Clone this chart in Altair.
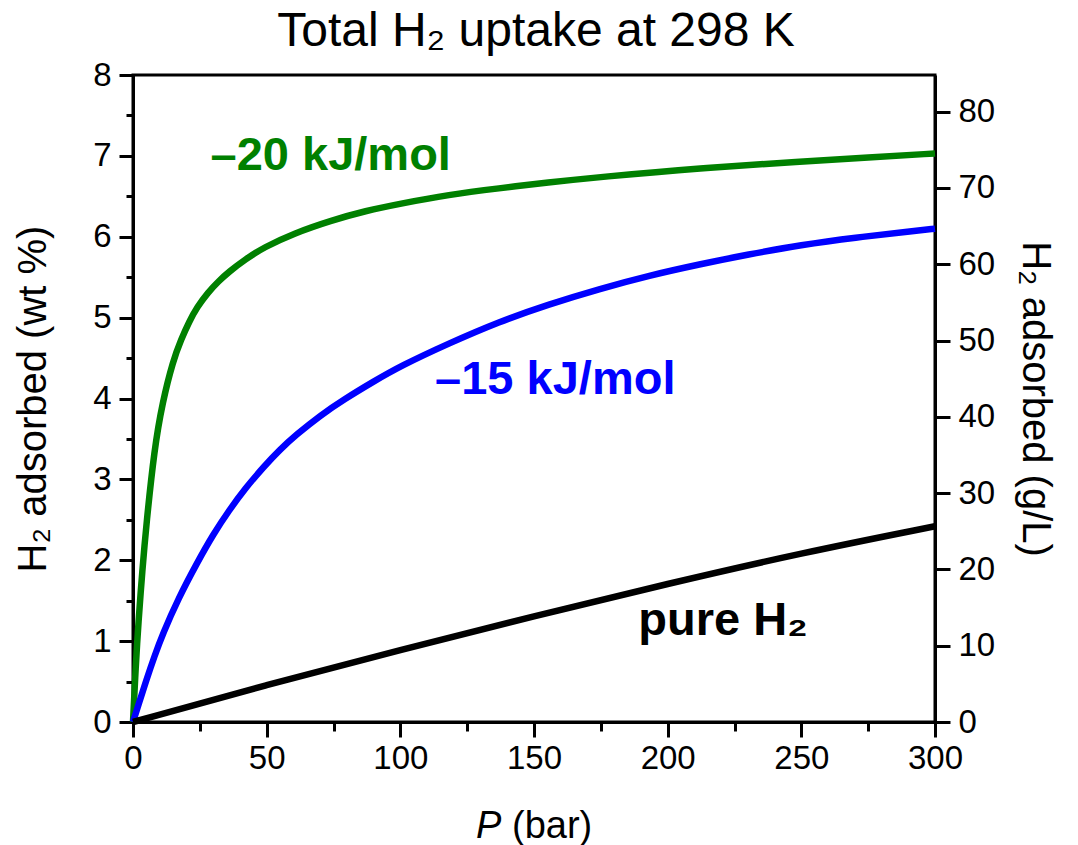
import altair as alt
import pandas as pd

FONT = "Liberation Sans"

# ---- data (P in bar, uptake in wt %) ----
p_green = [0, 1, 2, 3.5, 5, 8, 11, 15, 18, 21, 24, 28, 32, 36, 42, 49, 60, 74, 87, 100, 118, 137, 155, 175, 212, 250, 275, 300]
wt_green = [0, 0.68, 1.22, 1.88, 2.45, 3.38, 3.95, 4.47, 4.73, 4.95, 5.13, 5.31, 5.45, 5.57, 5.72, 5.87, 6.04, 6.20, 6.32, 6.41, 6.52, 6.60, 6.67, 6.74, 6.85, 6.93, 6.98, 7.03]

p_blue = [0, 2, 5, 8, 11, 17, 24, 30, 36, 42, 49, 55, 61, 70, 79, 90, 100, 118, 137, 155, 175, 193, 212, 230, 250, 270, 292, 300]
wt_blue = [0, 0.21, 0.52, 0.81, 1.08, 1.53, 1.97, 2.32, 2.62, 2.89, 3.16, 3.37, 3.55, 3.79, 3.99, 4.21, 4.40, 4.68, 4.95, 5.16, 5.36, 5.52, 5.66, 5.78, 5.90, 5.99, 6.07, 6.10]

p_pure = [0, 50, 100, 150, 200, 250, 300]
wt_pure = [0, 0.46, 0.89, 1.31, 1.71, 2.09, 2.42]

series_names = ["-20 kJ/mol", "-15 kJ/mol", "pure H2"]
series_colors = ["#008000", "#0000ff", "#000000"]
series_widths = [6.5, 6.5, 3]

# annotations (left edge P, baseline wt %)
ann_text = ["\u201320 kJ/mol", "\u201315 kJ/mol", "pure H\u2082"]
ann_p = [29, 113, 189]
ann_wt = [6.83, 4.06, 1.076]
ann_color = ["#008000", "#0000ff", "#000000"]

title_text = ["Total H\u2082 uptake at 298 K"]
x_title_parts = ["P", "(bar)"]

x_ticks = list(range(0, 301, 25))
y_ticks = [i * 0.5 for i in range(17)]
gl_ticks = list(range(0, 81, 10))

WT_MAX = 8
GL_PER_WT = 10.6

rows = []
for name, ps, ws in zip(series_names, [p_green, p_blue, p_pure], [wt_green, wt_blue, wt_pure]):
    for p, w in zip(ps, ws):
        rows.append({"series": name, "P": p, "wt": w})
df = pd.DataFrame(rows)

ann_df = pd.DataFrame({"label": ann_text, "P": ann_p, "wt": ann_wt, "col": ann_color})

common = dict(
    domainColor="black", domainWidth=3, tickColor="black", tickWidth=3,
    labelFont=FONT, labelFontSize=33, labelColor="black", grid=False, labelFlush=False,
    titleFont=FONT, titleFontSize=40, titleFontWeight="normal", titleColor="black",
)

x_scale = alt.Scale(domain=[0, 300], nice=False, zero=False)
y_scale = alt.Scale(domain=[0, WT_MAX], nice=False)

x_axis = alt.Axis(
    values=x_ticks, format="d",
    labelExpr="datum.value % 50 ? '' : datum.label",
    tickSize={"condition": {"test": "datum.value % 50 != 0", "value": 9}, "value": 15},
    labelPadding=5, title=None, **common,
)
y_axis = alt.Axis(
    values=y_ticks, format=".0f",
    labelExpr="datum.value % 1 ? '' : datum.label",
    tickSize={"condition": {"test": "datum.value % 1 != 0", "value": 7}, "value": 14},
    labelPadding=8, title="H\u2082 adsorbed (wt %)", titlePadding=39, **common,
)

lines = alt.Chart(df).mark_line(interpolate="basis", strokeCap="butt").encode(
    x=alt.X("P:Q", scale=x_scale, axis=x_axis),
    y=alt.Y("wt:Q", scale=y_scale, axis=y_axis),
    color=alt.Color("series:N", scale=alt.Scale(domain=series_names, range=series_colors), legend=None),
    strokeWidth=alt.StrokeWidth("series:N", scale=alt.Scale(domain=series_names, range=series_widths), legend=None),
)

labels = alt.Chart(ann_df).mark_text(
    align="left", baseline="alphabetic", font=FONT, fontSize=47, fontWeight="bold"
).encode(
    x=alt.X("P:Q", scale=x_scale, axis=x_axis),
    y=alt.Y("wt:Q", scale=y_scale, axis=None),
    text="label:N",
    color=alt.Color("col:N", scale=None),
)

right = alt.Chart(pd.DataFrame({"gL": gl_ticks})).mark_point(opacity=0).encode(
    x=alt.value(0),
    y=alt.Y("gL:Q", scale=alt.Scale(domain=[0, WT_MAX * GL_PER_WT], nice=False),
            axis=alt.Axis(orient="right", values=gl_ticks, tickSize=15, labelPadding=8,
                          title="H\u2082 adsorbed (g/L)", titlePadding=20, **common)),
)

xtitle_p = alt.Chart(pd.DataFrame({"t": [x_title_parts[0]]})).mark_text(
    align="left", baseline="alphabetic", font=FONT, fontSize=38, fontStyle="italic", color="black"
).encode(text="t:N", x=alt.value(343), y=alt.value(763))
xtitle_bar = alt.Chart(pd.DataFrame({"t": [x_title_parts[1]]})).mark_text(
    align="left", baseline="alphabetic", font=FONT, fontSize=38, color="black"
).encode(text="t:N", x=alt.value(379), y=alt.value(763))

title = alt.Chart(pd.DataFrame({"t": title_text})).mark_text(
    align="center", baseline="alphabetic", font=FONT, fontSize=48, color="black"
).encode(text="t:N", x=alt.value(403), y=alt.value(-29))

chart = alt.layer(lines, labels, right, xtitle_p, xtitle_bar, title).resolve_scale(y="independent").properties(
    width=802, height=647,
    padding={"left": 133, "top": 75, "right": 143, "bottom": 123},
    autosize=alt.AutoSizeParams(type="none"),
).configure_view(stroke="black", strokeWidth=3)

chart.save("out.html", embed_options={"renderer": "svg", "actions": False})
